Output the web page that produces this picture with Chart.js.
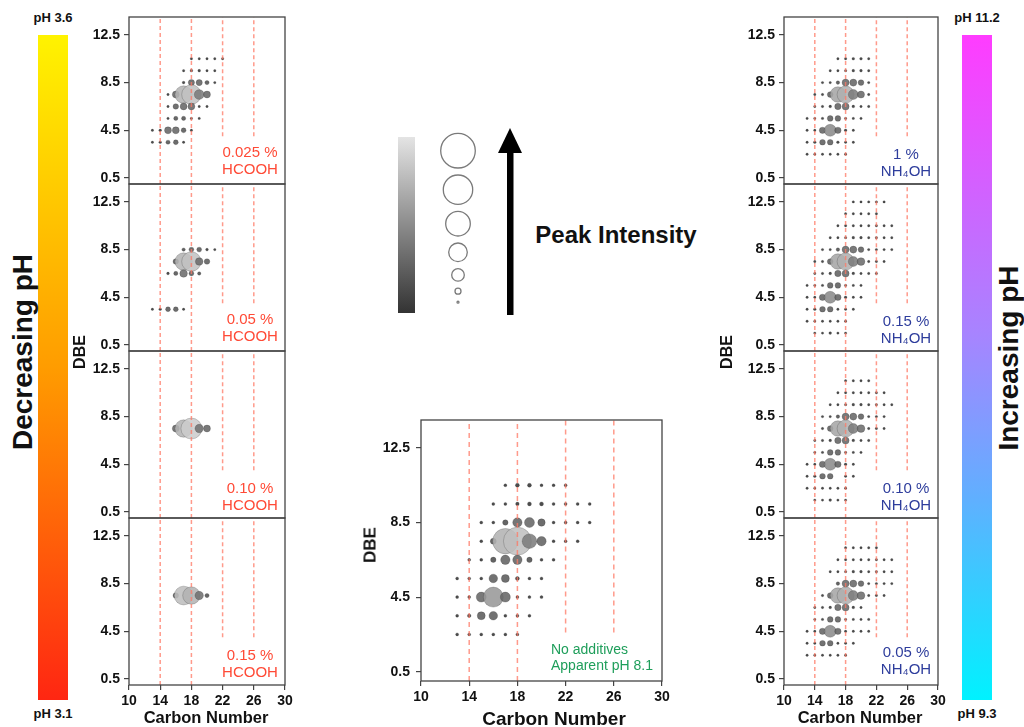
<!DOCTYPE html>
<html>
<head>
<meta charset="utf-8">
<script src="https://cdn.jsdelivr.net/npm/chart.js@4/dist/chart.umd.min.js"></script>
<style>
  html, body { margin: 0; padding: 0; background: #fff; }
  #fig { position: relative; width: 1024px; height: 727px; overflow: hidden;
         font-family: "Liberation Sans", Arial, Helvetica, sans-serif; color: #111; }
  .t { position: absolute; white-space: nowrap; transform: translate(-50%, -50%); line-height: 1; }
  .rot { transform: translate(-50%, -50%) rotate(-90deg); }
  .b { font-weight: bold; }
  .bar { position: absolute; }
  canvas { position: absolute; }
</style>
</head>
<body>
<div id="fig">
  <!-- pH colour bars -->
  <div class="bar" style="left:38px;top:35px;width:30px;height:665px;background:linear-gradient(#fff300,#ff9c00 50%,#ff2612)"></div>
  <div class="bar" style="left:962px;top:35px;width:30px;height:665px;background:linear-gradient(#ff3cff,#a784ff 45%,#5fb0ff 70%,#00f2ff)"></div>
  <!-- intensity key -->
  <div class="bar" style="left:398px;top:137px;width:17px;height:176px;background:linear-gradient(#e4e4e4,#333)"></div>
  <svg style="position:absolute;left:490px;top:120px" width="40" height="200">
    <rect x="17" y="30" width="6.5" height="165" fill="#000"/>
    <polygon points="8,33 32,33 20,8" fill="#000"/>
  </svg>
</div>

<script>
// axis values shared by all panels
const xRange = [10, 30];
const yRange = [0, 14];
const xTickStep = 4;
const yTicks = [0.5, 4.5, 8.5, 12.5];
const guideCarbons = [14, 18, 22, 26];

// [carbon number, DBE, peak size]
const hcooh025 = [
  [18,10.5,1.5],[19,10.5,1.5],[20,10.5,1.5],[21,10.5,1.5],[22,10.5,1.5],
  [17,9.5,1.5],[18,9.5,2],[19,9.5,2],[20,9.5,1.5],[21,9.5,1.5],
  [17,8.5,2],[18,8.5,4.6],[19,8.5,4.6],[20,8.5,3.1],[21,8.5,1.5],
  [15,7.5,1.5],[16,7.5,5.1],[17,7.5,12.8],[18,7.5,14.3],[19,7.5,7.2],[20,7.5,5.1],
  [15,6.5,1.5],[16,6.5,4.1],[17,6.5,5.1],[18,6.5,5.1],[19,6.5,1.5],[20,6.5,1.5],
  [15,5.5,1.5],[16,5.5,3.1],[17,5.5,3.1],[18,5.5,1.5],[19,5.5,1.5],
  [13,4.5,1.5],[14,4.5,2],[15,4.5,5.1],[16,4.5,5.1],[17,4.5,3.6],[18,4.5,1.5],
  [13,3.5,1.5],[14,3.5,2],[15,3.5,3.1],[16,3.5,3.6],[17,3.5,1.5]
];
const hcooh05 = [
  [17,8.5,2.5],[18,8.5,3.6],[19,8.5,3.6],[20,8.5,2],[21,8.5,1.5],
  [16,7.5,4.1],[17,7.5,12.8],[18,7.5,14.3],[19,7.5,5.6],[20,7.5,4.1],
  [15,6.5,2],[16,6.5,3.1],[17,6.5,5.6],[18,6.5,3.6],[19,6.5,2.5],
  [13,3.5,1.5],[14,3.5,2],[15,3.5,3.6],[16,3.5,3.6],[17,3.5,1.5]
];
const hcooh10 = [
  [16,7.5,5.1],[17,7.5,12.8],[18,7.5,15.4],[19,7.5,6.2],[20,7.5,5.1]
];
const hcooh15 = [
  [16,7.5,4.1],[17,7.5,13.8],[18,7.5,12.8],[19,7.5,6.2],[20,7.5,3.1]
];
const noAdditives = [
  [17,10.5,1.5],[18,10.5,2],[19,10.5,2],[20,10.5,1.5],[21,10.5,1.5],[22,10.5,1.5],
  [16,9.5,1.5],[17,9.5,1.5],[18,9.5,1.8],[19,9.5,2],[20,9.5,2],[21,9.5,1.5],[22,9.5,1.5],[23,9.5,1.5],[24,9.5,1.5],
  [15,8.5,1.5],[16,8.5,1.5],[17,8.5,2.7],[18,8.5,4.7],[19,8.5,5],[20,8.5,3.7],[21,8.5,1.5],[22,8.5,1.5],[23,8.5,1.5],[24,8.5,1.5],
  [15,7.5,1.5],[16,7.5,3],[17,7.5,12.7],[18,7.5,14],[19,7.5,7.3],[20,7.5,4.7],[21,7.5,1.5],[22,7.5,1.5],[23,7.5,1.5],
  [14,6.5,1.5],[15,6.5,1.5],[16,6.5,2.7],[17,6.5,4.7],[18,6.5,4.7],[19,6.5,2.7],[20,6.5,1.5],[21,6.5,1.5],
  [13,5.5,1.5],[14,5.5,1.5],[15,5.5,1.5],[16,5.5,4.3],[17,5.5,4],[18,5.5,2],[19,5.5,1.5],[20,5.5,1.5],
  [13,4.5,1.5],[14,4.5,1.5],[15,4.5,5],[16,4.5,10],[17,4.5,5],[18,4.5,1.5],[19,4.5,1.5],[20,4.5,1.5],
  [13,3.5,1.5],[14,3.5,1.8],[15,3.5,4],[16,3.5,4.3],[17,3.5,1.5],[18,3.5,1.5],[19,3.5,1.5],
  [13,2.5,1.5],[14,2.5,1.5],[15,2.5,1.5],[16,2.5,1.5],[17,2.5,1.5],[18,2.5,1.5]
];
const nh4oh1 = [
  [17,10.5,1.5],[18,10.5,1.5],[19,10.5,2],[20,10.5,2],[21,10.5,1.5],
  [16,9.5,1.5],[17,9.5,1.5],[18,9.5,1.5],[19,9.5,2],[20,9.5,2],[21,9.5,1.5],
  [15,8.5,1.5],[16,8.5,1.5],[17,8.5,2.6],[18,8.5,5.2],[19,8.5,5.2],[20,8.5,4.2],[21,8.5,1.5],
  [14,7.5,1.5],[15,7.5,1.5],[16,7.5,4.2],[17,7.5,11.4],[18,7.5,12.5],[19,7.5,7.3],[20,7.5,5.2],[21,7.5,1.5],
  [14,6.5,1.5],[15,6.5,1.5],[16,6.5,2],[17,6.5,4.7],[18,6.5,5.2],[19,6.5,2],[20,6.5,1.5],[21,6.5,1.5],
  [13,5.5,1.5],[14,5.5,1.5],[15,5.5,1.8],[16,5.5,4.2],[17,5.5,4.2],[18,5.5,1.5],[19,5.5,1.5],[20,5.5,1.5],
  [13,4.5,1.5],[14,4.5,1.5],[15,4.5,4.7],[16,4.5,8.8],[17,4.5,4.7],[18,4.5,2],[19,4.5,1.5],
  [13,3.5,1.5],[14,3.5,2],[15,3.5,4.2],[16,3.5,4.2],[17,3.5,2],[18,3.5,1.5],[19,3.5,1.5],
  [13,2.5,1.5],[14,2.5,1.5],[15,2.5,1.5],[16,2.5,1.5],[17,2.5,1.5],[18,2.5,1.5]
];
const nh4oh015 = [
  [19,12.5,1.5],[20,12.5,1.5],[21,12.5,1.5],[22,12.5,1.5],[23,12.5,1.5],
  [18,11.5,1.5],[19,11.5,1.5],[20,11.5,1.5],[21,11.5,1.5],[22,11.5,1.5],
  [17,10.5,1.5],[18,10.5,1.5],[19,10.5,1.8],[20,10.5,1.8],[21,10.5,1.5],[22,10.5,1.5],[23,10.5,1.5],[24,10.5,1.5],
  [16,9.5,1.5],[17,9.5,1.5],[18,9.5,1.5],[19,9.5,2],[20,9.5,2],[21,9.5,1.5],[22,9.5,1.5],[23,9.5,1.5],[24,9.5,1.5],
  [15,8.5,1.5],[16,8.5,1.5],[17,8.5,2.6],[18,8.5,5.2],[19,8.5,5.2],[20,8.5,4.2],[21,8.5,1.5],[22,8.5,1.5],[23,8.5,1.5],[24,8.5,1.5],
  [14,7.5,1.5],[15,7.5,1.5],[16,7.5,4.2],[17,7.5,11.4],[18,7.5,12.5],[19,7.5,7.3],[20,7.5,5.7],[21,7.5,1.5],[22,7.5,1.5],[23,7.5,1.5],
  [14,6.5,1.5],[15,6.5,1.5],[16,6.5,2],[17,6.5,4.7],[18,6.5,5.2],[19,6.5,2],[20,6.5,1.5],[21,6.5,1.5],[22,6.5,1.5],
  [13,5.5,1.5],[14,5.5,1.5],[15,5.5,1.5],[16,5.5,4.2],[17,5.5,4.2],[18,5.5,1.5],[19,5.5,1.5],[20,5.5,1.5],
  [13,4.5,1.5],[14,4.5,1.5],[15,4.5,4.7],[16,4.5,8.8],[17,4.5,4.7],[18,4.5,2],[19,4.5,1.5],[20,4.5,1.5],
  [13,3.5,1.5],[14,3.5,2],[15,3.5,4.2],[16,3.5,4.2],[17,3.5,1.5],[18,3.5,1.5],[19,3.5,1.5],
  [13,2.5,1.5],[14,2.5,1.5],[15,2.5,1.5],[16,2.5,1.5],[17,2.5,1.5],[18,2.5,1.5],
  [14,1.5,1.5],[15,1.5,1.5],[16,1.5,2],[17,1.5,1.5],[18,1.5,1.5]
];
const nh4oh010 = [
  [18,11.5,1.5],[19,11.5,1.5],[20,11.5,1.5],[21,11.5,1.5],
  [17,10.5,1.5],[18,10.5,1.5],[19,10.5,1.8],[20,10.5,1.8],[21,10.5,1.5],[22,10.5,1.5],[23,10.5,1.5],
  [16,9.5,1.5],[17,9.5,1.5],[18,9.5,1.5],[19,9.5,2],[20,9.5,2],[21,9.5,1.5],[22,9.5,1.5],[23,9.5,1.5],[24,9.5,1.5],
  [15,8.5,1.5],[16,8.5,1.5],[17,8.5,2.6],[18,8.5,5.2],[19,8.5,5.2],[20,8.5,4.2],[21,8.5,1.5],[22,8.5,1.5],[23,8.5,1.5],
  [15,7.5,1.5],[16,7.5,4.2],[17,7.5,11.4],[18,7.5,12.5],[19,7.5,7.3],[20,7.5,5.7],[21,7.5,1.5],[22,7.5,1.5],[23,7.5,1.5],
  [14,6.5,1.5],[15,6.5,1.5],[16,6.5,2],[17,6.5,4.7],[18,6.5,5.2],[19,6.5,2],[20,6.5,1.5],[21,6.5,1.5],
  [14,5.5,1.5],[15,5.5,1.5],[16,5.5,4.2],[17,5.5,4.2],[18,5.5,1.5],[19,5.5,1.5],[20,5.5,1.5],
  [13,4.5,1.5],[14,4.5,1.5],[15,4.5,4.7],[16,4.5,8.8],[17,4.5,4.7],[18,4.5,2],[19,4.5,1.5],
  [13,3.5,1.5],[14,3.5,2],[15,3.5,4.2],[16,3.5,4.2],[18,3.5,1.5],[19,3.5,1.5],
  [13,2.5,1.5],[14,2.5,1.5],[15,2.5,1.5],[16,2.5,1.5],[17,2.5,1.5],[18,2.5,1.5],
  [14,1.5,1.5],[15,1.5,1.5],[16,1.5,2],[17,1.5,1.5],[18,1.5,1.5]
];
const nh4oh005 = [
  [18,11.5,1.5],[19,11.5,1.5],[20,11.5,1.5],[21,11.5,1.5],[22,11.5,1.5],
  [17,10.5,1.5],[18,10.5,1.5],[19,10.5,1.8],[20,10.5,1.8],[21,10.5,1.5],[22,10.5,1.5],[23,10.5,1.5],[24,10.5,1.5],
  [16,9.5,1.5],[17,9.5,1.5],[18,9.5,1.5],[19,9.5,2],[20,9.5,2],[21,9.5,1.5],[22,9.5,1.5],[23,9.5,1.5],[24,9.5,1.5],
  [17,8.5,2.6],[18,8.5,5.2],[19,8.5,5.2],[20,8.5,4.2],[21,8.5,1.5],[22,8.5,1.5],[23,8.5,1.5],[24,8.5,1.5],
  [15,7.5,1.5],[16,7.5,4.2],[17,7.5,11.4],[18,7.5,12.5],[19,7.5,7.3],[20,7.5,5.7],[21,7.5,1.5],[22,7.5,1.5],[23,7.5,1.5],
  [14,6.5,1.5],[15,6.5,1.5],[16,6.5,2],[17,6.5,4.7],[18,6.5,5.2],[19,6.5,2],[20,6.5,1.5],
  [14,5.5,1.5],[15,5.5,1.5],[16,5.5,4.2],[17,5.5,4.2],[18,5.5,1.5],[19,5.5,1.5],[20,5.5,1.5],[21,5.5,1.5],
  [13,4.5,1.5],[14,4.5,1.5],[15,4.5,4.7],[16,4.5,8.8],[17,4.5,4.7],[18,4.5,1.5],[19,4.5,1.5],[20,4.5,1.5],[21,4.5,1.5],
  [13,3.5,1.5],[14,3.5,1.5],[15,3.5,4.2],[16,3.5,4.2],[17,3.5,1.5],[18,3.5,1.5],[19,3.5,1.5],
  [13,2.5,1.5],[14,2.5,1.5],[15,2.5,1.5],[16,2.5,1.5],[17,2.5,1.5],[18,2.5,1.5]
];
// intensity key circles, biggest first
const keySizes = [17.3, 14.7, 12.3, 9.3, 6.3, 3, 1];

const fig = document.getElementById('fig');
const tickFont = { family: '"Liberation Sans", Arial, sans-serif', size: 14, weight: 'bold' };

function shade(s) {
  const g = s <= 2 ? 52 : Math.min(205, Math.round(72 + (s - 2) * 10));
  return 'rgba(' + g + ',' + g + ',' + g + ',0.88)';
}

const frame = {
  id: 'frame',
  afterDraw(chart) {
    const a = chart.chartArea, ctx = chart.ctx;
    ctx.save();
    ctx.strokeStyle = '#444';
    ctx.lineWidth = 1.3;
    ctx.strokeRect(a.left, a.top, a.right - a.left, a.bottom - a.top);
    ctx.restore();
  }
};

function panel(rows, box, opt) {
  const yW = opt.yW, pad = 16;
  const w = yW + box.w + pad;
  const h = pad + box.h + (opt.showX ? opt.xH : pad);
  const cv = document.createElement('canvas');
  cv.width = w; cv.height = h;
  cv.style.left = (box.x - yW) + 'px';
  cv.style.top = (box.y - pad) + 'px';
  cv.style.width = w + 'px';
  cv.style.height = h + 'px';
  fig.appendChild(cv);

  const guides = guideCarbons.map((c, i) => ({
    type: 'line',
    data: [{ x: c, y: i < 2 ? yRange[0] : opt.cut }, { x: c, y: yRange[1] }],
    borderColor: 'rgba(255,120,100,0.75)',
    borderWidth: 1.5,
    borderDash: opt.dash,
    pointRadius: 0,
    order: 0
  }));

  new Chart(cv, {
    type: 'bubble',
    data: {
      datasets: [...guides, {
        data: rows.map(r => ({ x: r[0], y: r[1], s: r[2] })),
        backgroundColor: ctx => shade(ctx.raw.s),
        borderColor: 'rgba(30,30,30,0.35)',
        borderWidth: 0.6,
        radius: ctx => Math.max(ctx.raw.s * opt.k, opt.minR),
        order: 1
      }]
    },
    options: {
      responsive: false,
      animation: false,
      events: [],
      layout: { autoPadding: false, padding: { top: pad, right: pad, bottom: opt.showX ? 0 : pad, left: 0 } },
      plugins: { legend: { display: false }, tooltip: { enabled: false } },
      scales: {
        x: {
          type: 'linear', min: xRange[0], max: xRange[1], display: opt.showX,
          ticks: { stepSize: xTickStep, font: tickFont, color: '#111', padding: 3, maxRotation: 0 },
          grid: { drawOnChartArea: false, tickLength: 5, color: '#444', lineWidth: 1.2 },
          border: { display: false },
          afterFit: s => { if (opt.showX) s.height = opt.xH; s.paddingLeft = 0; s.paddingRight = 0; }
        },
        y: {
          type: 'linear', min: yRange[0], max: yRange[1],
          afterBuildTicks: s => { s.ticks = yTicks.map(v => ({ value: v })); },
          ticks: { font: tickFont, color: '#111', padding: opt.yPad, callback: v => String(v) },
          grid: { drawOnChartArea: false, tickLength: 5, color: '#444', lineWidth: 1.2 },
          border: { display: false },
          afterFit: s => { s.width = yW; s.paddingTop = 0; s.paddingBottom = 0; }
        }
      }
    },
    plugins: [frame]
  });
}

const sideTops = [17, 184, 351, 518];
const sideH = 167;
const small = { yW: 40, xH: 24, k: 0.68, minR: 1.2, cut: 4, dash: [4, 3], yPad: 4 };

[hcooh025, hcooh05, hcooh10, hcooh15].forEach((rows, i) => {
  panel(rows, { x: 129, y: sideTops[i], w: 156, h: sideH }, Object.assign({}, small, { showX: i === 3 }));
});
[nh4oh1, nh4oh015, nh4oh010, nh4oh005].forEach((rows, i) => {
  panel(rows, { x: 784, y: sideTops[i], w: 154, h: sideH }, Object.assign({}, small, { showX: i === 3 }));
});
panel(noAdditives, { x: 421, y: 420, w: 241, h: 261 },
  { yW: 45, xH: 26, k: 1, minR: 1.5, cut: 2.6, dash: [5, 4], yPad: 6, showX: true });

// intensity key circles stacked top-down
(function () {
  const cv = document.createElement('canvas');
  cv.width = 56; cv.height = 185;
  cv.style.left = '430px'; cv.style.top = '128px';
  cv.style.width = '56px'; cv.style.height = '185px';
  fig.appendChild(cv);
  let y = 5.4;
  const pts = keySizes.map(r => { const p = { x: 0.5, y: y + r, r: r }; y += 2 * r + 7; return p; });
  new Chart(cv, {
    type: 'bubble',
    data: { datasets: [{ data: pts, backgroundColor: 'rgba(0,0,0,0)', borderColor: '#7a7a7a', borderWidth: 1.3, clip: false }] },
    options: {
      responsive: false, animation: false, events: [],
      layout: { autoPadding: false, padding: 0 },
      plugins: { legend: { display: false }, tooltip: { enabled: false } },
      scales: {
        x: { type: 'linear', min: 0, max: 1, display: false },
        y: { type: 'linear', min: 0, max: 185, reverse: true, display: false }
      }
    }
  });
})();

// text
function label(txt, x, y, css, cls) {
  const d = document.createElement('div');
  d.className = 't ' + (cls || '');
  d.innerHTML = txt;
  d.style.left = x + 'px';
  d.style.top = y + 'px';
  d.style.cssText += ';' + css;
  fig.appendChild(d);
  return d;
}
label('pH 3.6', 53, 17, 'font-size:13px', 'b');
label('pH 3.1', 53, 713, 'font-size:13px', 'b');
label('pH 11.2', 977, 17, 'font-size:13px', 'b');
label('pH 9.3', 977, 713, 'font-size:13px', 'b');
label('Decreasing pH', 23, 352, 'font-size:28px', 'b rot');
label('Increasing pH', 1009, 358, 'font-size:28px', 'b rot');
label('DBE', 80, 352, 'font-size:16px', 'b rot');
label('DBE', 727, 352, 'font-size:16px', 'b rot');
label('DBE', 370, 545, 'font-size:17px', 'b rot');
label('Carbon Number', 206, 717, 'font-size:16.5px', 'b');
label('Carbon Number', 860, 717, 'font-size:16.5px', 'b');
label('Carbon Number', 554, 718, 'font-size:19px', 'b');
label('Peak Intensity', 616, 235, 'font-size:24px', 'b');

const red = 'color:#ff4a36;font-size:15px';
const blue = 'color:#2e3d9c;font-size:15px';
[['0.025 %', 151], ['0.05 %', 318], ['0.10 %', 487], ['0.15 %', 654]].forEach(p => {
  label(p[0], 250, p[1], red);
  label('HCOOH', 250, p[1] + 17, red);
});
[['1 %', 153], ['0.15 %', 320], ['0.10 %', 487], ['0.05 %', 651]].forEach(p => {
  label(p[0], 906, p[1], blue);
  label('NH\u2084OH', 906, p[1] + 17, blue);
});
const green = 'color:#1e9e5a;font-size:14px;transform:translate(0,-50%)';
label('No additives', 551, 649, green);
label('Apparent pH 8.1', 551, 665, green);
</script>
</body>
</html>
